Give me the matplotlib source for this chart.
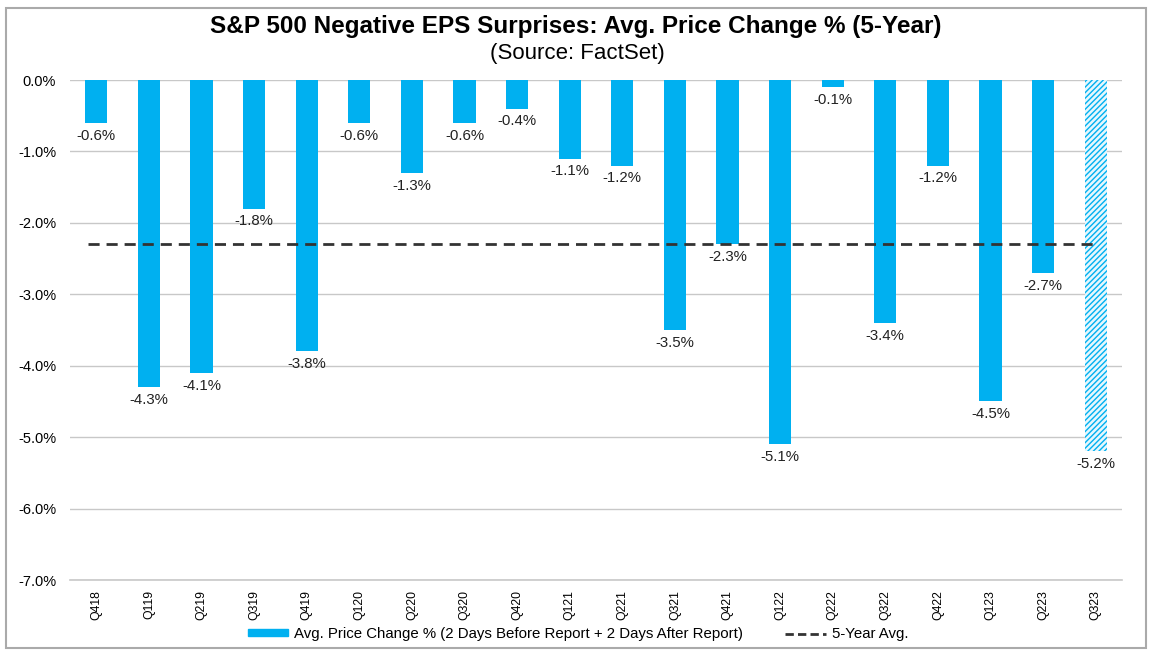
import matplotlib
matplotlib.use("Agg")
import matplotlib.pyplot as plt
from matplotlib.patches import Rectangle
from matplotlib.lines import Line2D

quarters = ["Q418", "Q119", "Q219", "Q319", "Q419", "Q120", "Q220", "Q320", "Q420", "Q121",
            "Q221", "Q321", "Q421", "Q122", "Q222", "Q322", "Q422", "Q123", "Q223", "Q323"]
values = [-0.6, -4.3, -4.1, -1.8, -3.8, -0.6, -1.3, -0.6, -0.4, -1.1,
          -1.2, -3.5, -2.3, -5.1, -0.1, -3.4, -1.2, -4.5, -2.7, -5.2]
avg_5yr = -2.3
yticks = [0, -1, -2, -3, -4, -5, -6, -7]

plt.rcParams['font.family'] = ['Liberation Sans', 'DejaVu Sans']
blue = '#00B0F0'
plt.rcParams['hatch.color'] = blue

fig = plt.figure(figsize=(11.51, 6.56), dpi=100)
ax = fig.add_axes([70/1151, 1-580/656, (1122-70)/1151, 500/656])

x = list(range(len(values)))
ax.bar(x[:-1], values[:-1], width=0.42, color=blue, zorder=3)
ax.bar(x[-1:], values[-1:], width=0.42, color='#e6f7fd', edgecolor=blue,
       hatch='//////', linewidth=0, zorder=3)

for xi, v in zip(x, values):
    ax.text(xi, v - 0.08, f"{v:.1f}%", ha='center', va='top', fontsize=10.8, color='#222222', zorder=4)

ax.plot([-0.15, 19], [avg_5yr, avg_5yr], color='#333333', linestyle=(0, (4, 2.5)), linewidth=2, zorder=5)

ax.set_xlim(-0.5, 19.5)
ax.set_ylim(-7, 0)
ax.set_yticks(yticks)
ax.set_yticklabels([f"{t:.1f}%" for t in yticks], fontsize=10.5)
ax.set_xticks(x)
ax.set_xticklabels(quarters, rotation=90, fontsize=8.8)
ax.tick_params(axis='both', length=0, pad=10)
ax.tick_params(axis='x', pad=7)
ax.yaxis.grid(True, color='#c8c8c8', linewidth=1, zorder=0)
ax.set_axisbelow(True)
for s in ax.spines.values():
    s.set_visible(False)
ax.plot([-0.5, 19.5], [-7, -7], color='#c8c8c8', linewidth=1.2, zorder=1, clip_on=False)

fig.text(0.5, 1-27/656, "S&P 500 Negative EPS Surprises: Avg. Price Change % (5-Year)",
         ha='center', va='center', fontsize=17.5, fontweight='bold')
fig.text(577/1151, 1-54/656, "(Source: FactSet)", ha='center', va='center', fontsize=16)

handles = [Rectangle((0, 0), 1, 1, color=blue),
           Line2D([0], [0], color='#333333', linestyle=(0, (3, 1.5)), linewidth=2)]
fig.legend(handles, ["Avg. Price Change % (2 Days Before Report + 2 Days After Report)", "5-Year Avg."],
           loc='center', bbox_to_anchor=(578/1151, 1-634/656), ncol=2, frameon=False,
           fontsize=10.8, handlelength=2.7, handleheight=0.35, handletextpad=0.4, columnspacing=2.8)

border = Rectangle((6/1151, 8/656), 1140/1151, 640/656, transform=fig.transFigure,
                   fill=False, edgecolor='#aaaaaa', linewidth=1.5)
fig.patches.append(border)

fig.savefig("out.png", dpi=100)
